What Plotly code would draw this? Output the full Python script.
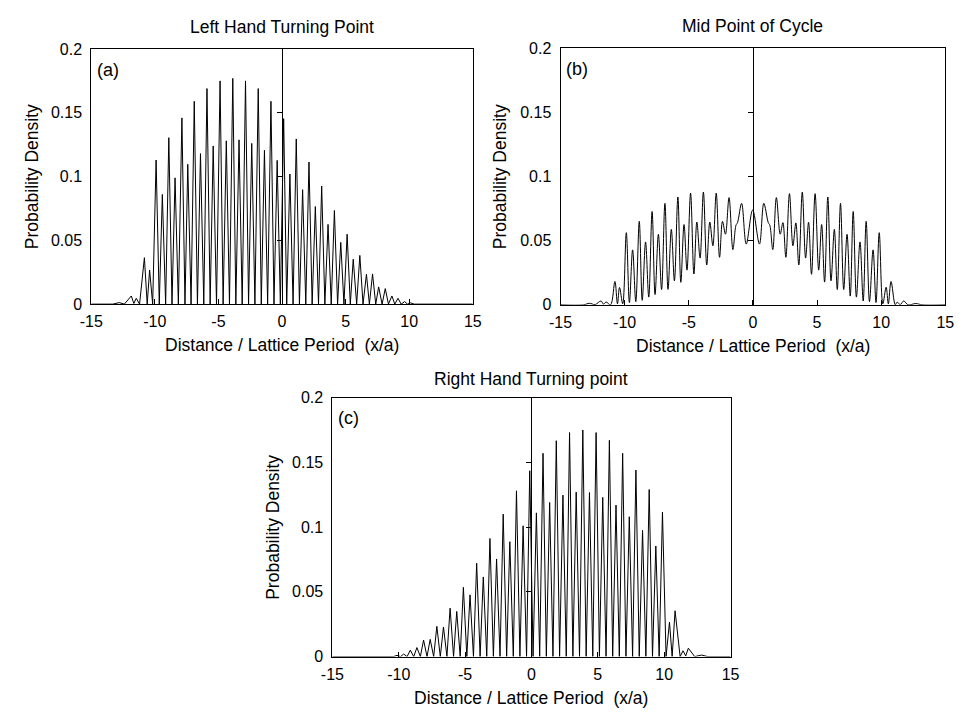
import plotly.graph_objects as go

# ---------------- data ----------------
# Panel (a): Left Hand Turning Point  -- curve vertices (peaks and troughs)
xa = [-15, -13.3, -12.8, -12.4, -11.85, -11.65, -11.46, -11.2, -10.82, -10.6, -10.41, -10.17,
      -9.9, -9.65, -9.41, -9.15, -8.9, -8.65, -8.41, -8.15, -7.87, -7.63, -7.41, -7.15,
      -6.9, -6.65, -6.41, -6.15, -5.9, -5.65, -5.41, -5.15, -4.87, -4.63, -4.38, -4.13,
      -3.87, -3.63, -3.38, -3.13, -2.87, -2.63, -2.38, -2.13, -1.87, -1.63, -1.38, -1.13,
      -0.87, -0.63, -0.38, -0.13, 0.13, 0.37, 0.62, 0.87, 1.12, 1.37, 1.62, 1.87,
      2.12, 2.37, 2.62, 2.87, 3.12, 3.37, 3.62, 3.87, 4.12, 4.37, 4.62, 4.87,
      5.12, 5.37, 5.6, 5.87, 6.12, 6.37, 6.64, 6.87, 7.12, 7.37, 7.6, 7.87,
      8.12, 8.37, 8.64, 8.87, 9.12, 9.37, 9.64, 9.87, 10.1, 10.4, 15]
ya = [0, 0, 0.0012, 0, 0.0064, 0.0005, 0.0046, 0, 0.0364, 0, 0.0268, 0,
      0.113, 0, 0.086, 0, 0.1305, 0, 0.099, 0, 0.146, 0, 0.1096, 0,
      0.159, 0, 0.118, 0, 0.169, 0, 0.124, 0, 0.175, 0, 0.128, 0,
      0.177, 0, 0.1288, 0, 0.175, 0, 0.126, 0, 0.169, 0, 0.1206, 0,
      0.159, 0, 0.1127, 0, 0.1454, 0, 0.102, 0, 0.1295, 0, 0.0897, 0,
      0.1114, 0, 0.0765, 0, 0.0926, 0, 0.0625, 0, 0.0734, 0, 0.0484, 0,
      0.0548, 0, 0.0352, 0, 0.0382, 0, 0.0234, 0, 0.0237, 0, 0.0135, 0,
      0.0122, 0, 0.0064, 0, 0.0046, 0, 0.002, 0, 0.001, 0, 0]

# Panel (b): Mid Point of Cycle -- curve vertices
xb = [-15, -13.2, -12.75, -12.3, -11.85, -11.65, -11.45, -11.1, -10.76, -10.56, -10.4, -10.15,
      -9.87, -9.63, -9.38, -9.13, -8.86, -8.63, -8.37, -8.12, -7.86, -7.63, -7.37, -7.12,
      -6.86, -6.62, -6.36, -6.12, -5.85, -5.62, -5.37, -5.14, -4.86, -4.6, -4.37, -4.12,
      -3.86, -3.6, -3.36, -3.12, -2.86, -2.6, -2.37, -2.14, -1.86, -1.56, -1.32, -1.2,
      -0.88, -0.52, -0.02, 0.51, 0.85, 1.2, 1.32, 1.55, 1.83, 2.13, 2.34, 2.57,
      2.85, 3.12, 3.35, 3.58, 3.85, 4.11, 4.34, 4.57, 4.85, 5.13, 5.36, 5.59,
      5.84, 6.09, 6.35, 6.58, 6.83, 7.08, 7.34, 7.59, 7.82, 8.07, 8.35, 8.6,
      8.83, 9.09, 9.37, 9.6, 9.85, 10.13, 10.39, 10.56, 10.77, 11.1, 11.24, 11.5,
      11.76, 12.1, 12.7, 13.2, 15]
yb = [0, 0, 0.0012, 0.0002, 0.003, 0.0005, 0.0022, 0, 0.0182, 0.0008, 0.0135, 0.0008,
      0.0562, 0.0018, 0.0428, 0.0025, 0.065, 0.0035, 0.049, 0.006, 0.0727, 0.008, 0.0549, 0.0119,
      0.079, 0.012, 0.0587, 0.0187, 0.084, 0.0175, 0.0625, 0.027, 0.087, 0.024, 0.0645, 0.0364,
      0.0878, 0.031, 0.0645, 0.046, 0.087, 0.037, 0.065, 0.055, 0.0835, 0.043, 0.062, 0.064,
      0.079, 0.0473, 0.0738, 0.0473, 0.079, 0.064, 0.062, 0.043, 0.0835, 0.055, 0.064, 0.037,
      0.0866, 0.046, 0.0638, 0.031, 0.0878, 0.0364, 0.0643, 0.0238, 0.0866, 0.027, 0.0625, 0.0177,
      0.084, 0.0187, 0.0587, 0.0119, 0.079, 0.0119, 0.0549, 0.0068, 0.0727, 0.006, 0.049, 0.003,
      0.065, 0.0025, 0.0428, 0.0018, 0.0562, 0.0008, 0.0137, 0.0008, 0.0182, 0, 0.002, 0.0003,
      0.003, 0, 0.001, 0, 0]

# Panel (c): Right Hand Turning point -- curve vertices
xc = [-15, -10.4, -10.13, -9.87, -9.63, -9.37, -9.13, -8.87, -8.63, -8.37, -8.13, -7.87,
      -7.63, -7.37, -7.13, -6.87, -6.63, -6.37, -6.13, -5.87, -5.63, -5.37, -5.13, -4.87,
      -4.63, -4.37, -4.13, -3.87, -3.63, -3.37, -3.13, -2.87, -2.63, -2.37, -2.13, -1.87,
      -1.63, -1.37, -1.13, -0.87, -0.63, -0.37, -0.13, 0.12, 0.37, 0.62, 0.87, 1.12,
      1.37, 1.62, 1.87, 2.12, 2.37, 2.62, 2.87, 3.12, 3.37, 3.62, 3.87, 4.12,
      4.37, 4.62, 4.87, 5.12, 5.37, 5.62, 5.87, 6.12, 6.37, 6.62, 6.87, 7.12,
      7.37, 7.62, 7.87, 8.12, 8.37, 8.62, 8.87, 9.12, 9.37, 9.62, 9.87, 10.14,
      10.4, 10.6, 10.82, 11.2, 11.42, 11.62, 11.82, 12.3, 12.8, 13.3, 15]
yc = [0, 0, 0.001, 0, 0.002, 0, 0.005, 0, 0.007, 0, 0.0128, 0,
      0.0133, 0, 0.0234, 0, 0.0229, 0, 0.0374, 0, 0.0349, 0, 0.0535, 0,
      0.0477, 0, 0.0721, 0, 0.0615, 0, 0.0912, 0, 0.0754, 0, 0.110, 0,
      0.0887, 0, 0.128, 0, 0.101, 0, 0.1435, 0, 0.111, 0, 0.157, 0,
      0.119, 0, 0.1667, 0, 0.1247, 0, 0.173, 0, 0.127, 0, 0.175, 0,
      0.1267, 0, 0.173, 0, 0.123, 0, 0.167, 0, 0.117, 0, 0.157, 0,
      0.108, 0, 0.144, 0, 0.0975, 0, 0.129, 0, 0.0854, 0, 0.1116, 0,
      0.0266, 0, 0.0354, 0, 0.0045, 0.0005, 0.0065, 0, 0.0012, 0, 0]

assert len(xa) == len(ya) and len(xb) == len(yb) and len(xc) == len(yc)

titles = ["Left Hand Turning Point", "Mid Point of Cycle", "Right Hand Turning point"]
labels = ["(a)", "(b)", "(c)"]
x_ticks = [-15, -10, -5, 0, 5, 10, 15]
x_ticktext = ["-15", "-10", "-5", "0", "5", "10", "15"]
y_ticks = [0, 0.05, 0.1, 0.15, 0.2]
y_ticktext = ["0", "0.05", "0.1", "0.15", "0.2"]
x_title = "Distance / Lattice Period\u00a0\u00a0(x/a)"
y_title = "Probability Density"

# ---------------- layout geometry (pixels) ----------------
W, H = 967, 720
boxes = [  # left, right, top, bottom in pixels
    (81, 471, 42, 303.3),
    (560.7, 954, 41, 304),
    (327.5, 734.5, 399, 664.3),
]
title_gap = [23, 23, 19]

FONT = "Liberation Sans, Arial, Helvetica, sans-serif"
fig = go.Figure()

series = [(xa, ya, "linear"), (xb, yb, "spline"), (xc, yc, "linear")]
annotations = []
for i, ((xs, ys, shape), (l, r, t, b)) in enumerate(zip(series, boxes)):
    n = "" if i == 0 else str(i + 1)
    xd = [l / W, r / W]
    yd = [1 - b / H, 1 - t / H]
    xid, yid = "x" + n, "y" + n
    oid = "y" + str(i + 4)
    fig.add_trace(go.Scatter(x=xs, y=ys, mode="lines", xaxis=xid, yaxis=yid,
                             line=dict(color="black", width=1, shape=shape),
                             showlegend=False, hoverinfo="skip"))
    fig.add_trace(go.Scatter(x=[0], y=[0], mode="markers", xaxis=xid, yaxis=oid,
                             marker=dict(size=1, opacity=0), showlegend=False,
                             hoverinfo="skip"))
    common = dict(showgrid=False, zeroline=False, linecolor="black", linewidth=1,
                  tickcolor="black", tickfont=dict(family=FONT, size=16, color="black"))
    fig.layout["xaxis" + n] = dict(domain=xd, range=[-15, 15], anchor=yid,
                                   tickvals=x_ticks, ticktext=x_ticktext,
                                   ticks="inside", ticklen=5,
                                   showline=True, mirror=True, ticklabelstandoff=3,
                                   **common)
    fig.layout["yaxis" + n] = dict(domain=yd, range=[0, 0.2], anchor=xid,
                                   tickvals=y_ticks, ticktext=y_ticktext, ticks="",
                                   showline=True, mirror=True, ticklabelstandoff=5,
                                   **common)
    # vertical axis line at x = 0 with ticks pointing left
    pos = xd[0] + (0 - (-15)) / 30 * (xd[1] - xd[0])
    fig.layout["yaxis" + str(i + 4)] = dict(overlaying=yid, anchor="free", position=pos,
                                            side="left", range=[0, 0.2],
                                            tickvals=[0.05, 0.1, 0.15], ticks="outside",
                                            ticklen=5, showticklabels=False,
                                            showline=True, **common)
    cx = (l + r) / 2 / W
    cy = 1 - (t + b) / 2 / H
    tf = dict(family=FONT, size=17.5, color="black")
    annotations.append(dict(text=titles[i], x=cx, y=1 - (t - title_gap[i]) / H,
                            xref="paper", yref="paper",
                            xanchor="center", yanchor="middle", showarrow=False, font=tf))
    annotations.append(dict(text=x_title, x=cx, y=1 - (b + 42) / H, xref="paper", yref="paper",
                            xanchor="center", yanchor="middle", showarrow=False, font=tf))
    annotations.append(dict(text=y_title, x=(l - 61) / W, y=cy, xref="paper", yref="paper",
                            xanchor="center", yanchor="middle", textangle=-90,
                            showarrow=False, font=tf))
    annotations.append(dict(text=labels[i], x=(l + 4) / W, y=1 - (t + 21) / H,
                            xref="paper", yref="paper", xanchor="left", yanchor="middle",
                            showarrow=False, font=dict(family=FONT, size=18, color="black")))

fig.update_layout(width=W, height=H, autosize=False,
                  margin=dict(l=0, r=0, t=0, b=0),
                  paper_bgcolor="white", plot_bgcolor="white",
                  annotations=annotations)

fig.write_html("out.html", config={"displayModeBar": False},
               post_script="document.body.style.margin='0';document.body.style.overflow='hidden';")
